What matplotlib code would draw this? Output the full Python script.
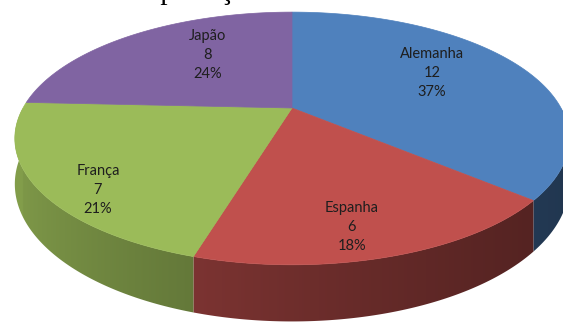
import numpy as np
import matplotlib.pyplot as plt
from matplotlib.patches import Polygon
from matplotlib.colors import to_rgb

# dados do grafico
paises = ['Alemanha', 'Espanha', 'França', 'Japão']
valores = [12, 6, 7, 8]
percentuais = ['37%', '18%', '21%', '24%']
titulo = 'Exportação'

cores = ['#4F81BD', '#C0504D', '#9BBB59', '#8064A2']
pos_rotulos = [(432, 73), (352, 227), (98, 190), (208, 55)]

W, H = 563, 327
fig = plt.figure(figsize=(W / 100, H / 100), dpi=100)
ax = fig.add_axes([0, 0, 1, 1])
ax.set_xlim(0, W)
ax.set_ylim(H, 0)
ax.axis('off')

# geometria da pizza 3D (em pixels)
cx, cy = 292, 108
a, b, k = 269, 119, 0.241
altura = 43


def proj(t, r=1.0, dz=0.0):
    s = r * np.sin(t)
    f = 1.0 / (1.0 + k * s)
    x = cx + a * r * np.cos(t) * f
    y = cy - b * s * f + dz * f
    return x, y


def sombra(t):
    return 0.42 + 0.42 * ((1 - np.cos(t)) / 2) ** 1.4


total = sum(valores)
acum = np.concatenate([[0], np.cumsum(valores)]) / total
angulos = np.pi / 2 - 2 * np.pi * acum

# relacao x -> angulo na metade da frente, para o degrade das laterais
t_frente = np.linspace(-np.pi, 0, 600)
x_frente, _ = proj(t_frente, dz=altura)
xs_img = np.arange(0, W + 1)
t_img = np.interp(xs_img, x_frente, t_frente)
fator_img = sombra(t_img)

# laterais (so a metade da frente aparece)
for i, cor in enumerate(cores):
    ts = np.linspace(angulos[i], angulos[i + 1], 400)
    ts = np.arctan2(np.sin(ts), np.cos(ts))
    frente = ts[np.sin(ts) <= 0.0]
    if len(frente) < 2:
        continue
    frente = np.sort(frente)
    xt, yt = proj(frente)
    xb, yb = proj(frente, dz=altura)
    pts = list(zip(xt, yt)) + list(zip(xb[::-1], yb[::-1]))
    poly = Polygon(pts, closed=True, facecolor='none', edgecolor='none')
    ax.add_patch(poly)
    base = np.array(to_rgb(cor))
    img = (fator_img[:, None] * base[None, :])[None, :, :]
    im = ax.imshow(img, extent=(0, W, H, 0), aspect='auto', interpolation='bilinear')
    im.set_clip_path(poly)

# faces de cima
for i, cor in enumerate(cores):
    ts = np.linspace(angulos[i], angulos[i + 1], 200)
    xs, ys = proj(ts)
    pts = [(cx, cy)] + list(zip(xs, ys))
    ax.add_patch(Polygon(pts, closed=True, facecolor=cor, edgecolor=cor, lw=0.5))

ax.set_xlim(0, W)
ax.set_ylim(H, 0)

# rotulos
for i, nome in enumerate(paises):
    x, y = pos_rotulos[i]
    ax.text(x, y, f'{nome}\n{valores[i]}\n{percentuais[i]}', ha='center', va='center',
            fontsize=10.5, family='Lato', color='#1e1e1e', linespacing=1.45)

# titulo (cortado no topo da imagem, como no original)
ax.text(128, -1, titulo, ha='left', va='baseline', fontsize=21,
        family='Liberation Serif', color='black', clip_on=False)

fig.savefig('out.png', dpi=100, facecolor='white')
